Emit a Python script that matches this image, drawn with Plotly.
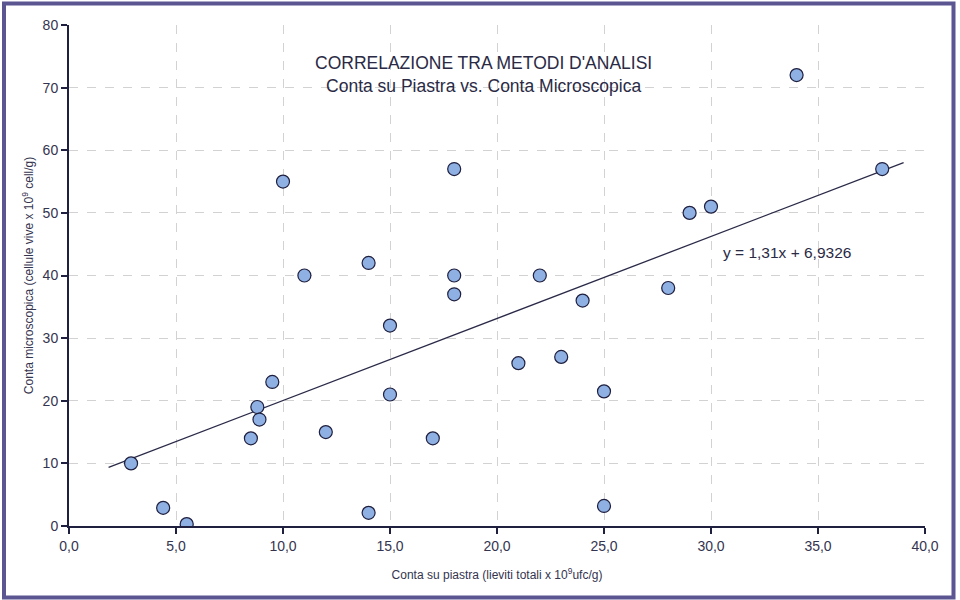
import plotly.graph_objects as go

conta_piastra = [2.9, 4.4, 5.5, 8.5, 8.8, 8.9, 9.5, 10.0, 11.0, 12.0, 14.0, 14.0, 15.0, 15.0,
                 17.0, 18.0, 18.0, 18.0, 21.0, 22.0, 23.0, 24.0, 25.0, 25.0, 28.0, 29.0, 30.0, 34.0, 38.0]
conta_micro = [10.0, 2.9, 0.3, 14.0, 19.0, 17.0, 23.0, 55.0, 40.0, 15.0, 42.0, 2.1, 32.0, 21.0,
               14.0, 57.0, 40.0, 37.0, 26.0, 40.0, 27.0, 36.0, 21.5, 3.2, 38.0, 50.0, 51.0, 72.0, 57.0]
slope = 1.31
intercept = 6.9326
trend_x = [1.85, 39.0]
trend_y = [slope * v + intercept for v in trend_x]
x_ticks = [0, 5, 10, 15, 20, 25, 30, 35, 40]
y_ticks = [0, 10, 20, 30, 40, 50, 60, 70, 80]

navy = "#1f1f3f"
txt = "#34344f"
font_fam = "Liberation Sans Narrow, Arial Narrow, Liberation Sans, Arial, sans-serif"

fig = go.Figure()
fig.add_trace(go.Scatter(x=trend_x, y=trend_y, mode="lines",
                         line=dict(color="#2a2a48", width=1.3), hoverinfo="skip"))
fig.add_trace(go.Scatter(x=conta_piastra, y=conta_micro, mode="markers",
                         marker=dict(size=13, color="#8eb0e2", line=dict(color=navy, width=1.2))))

L, R, T, B = 69, 35, 25, 74
W, H = 960, 600
pw, ph = W - L - R, H - T - B

def px2paper_x(p):
    return (p - L) / pw

def px2paper_y(p):
    return (H - B - p) / ph

fig.add_shape(type="rect", xref="paper", yref="paper",
              x0=px2paper_x(4), x1=px2paper_x(953.5), y0=px2paper_y(597.5), y1=px2paper_y(3.5),
              line=dict(color="#5b5592", width=4), fillcolor="rgba(0,0,0,0)", layer="above")

fig.add_annotation(xref="paper", yref="paper", x=px2paper_x(483), y=px2paper_y(75),
                   text="CORRELAZIONE TRA METODI D'ANALISI<br>Conta su Piastra vs. Conta Microscopica",
                   showarrow=False, font=dict(family=font_fam, size=17.5, color="#2a2a45"),
                   align="center", xanchor="center", yanchor="middle")
fig.add_annotation(x=33.55, y=43.6, xref="x", yref="y",
                   text="y = 1,31x + 6,9326", showarrow=False,
                   font=dict(family=font_fam, size=15.5, color="#2a2a45"),
                   xanchor="center", yanchor="middle")

fig.update_layout(
    width=W, height=H, margin=dict(l=L, r=R, t=T, b=B),
    paper_bgcolor="white", plot_bgcolor="white", showlegend=False,
    separators=",.",
    font=dict(family=font_fam, color=txt),
    xaxis=dict(range=[0, 40], tickvals=x_ticks, tickformat=".1f",
               showline=True, linecolor=navy, linewidth=2, ticks="outside", ticklen=6,
               tickcolor=navy, tickwidth=2, showgrid=True, gridcolor="#d2d2d2", griddash="dash",
               gridwidth=1, zeroline=False, tickfont=dict(size=14, color=txt),
               title=dict(text="Conta su piastra (lieviti totali x 10<sup>9</sup>ufc/g)",
                          font=dict(size=12, color=txt), standoff=18)),
    yaxis=dict(range=[0, 80], tickvals=y_ticks,
               showline=True, linecolor=navy, linewidth=2, ticks="outside", ticklen=6,
               tickcolor=navy, tickwidth=2, showgrid=True, gridcolor="#d2d2d2", griddash="dash",
               gridwidth=1, zeroline=False, tickfont=dict(size=14, color=txt),
               title=dict(text="Conta microscopica (cellule vive x 10<sup>9</sup> cell/g)",
                          font=dict(size=12, color=txt), standoff=6)),
)
fig.write_html("out.html")
